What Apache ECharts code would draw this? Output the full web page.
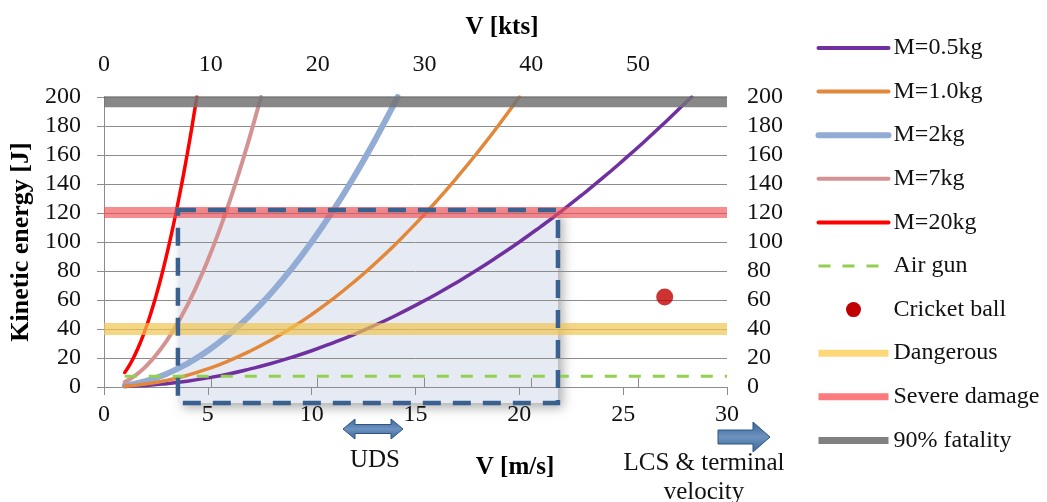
<!DOCTYPE html>
<html><head><meta charset="utf-8">
<script src="https://cdn.jsdelivr.net/npm/echarts@6/dist/echarts.min.js"></script>
<style>html,body{margin:0;padding:0;background:#fff}#c{width:1047px;height:502px}</style>
</head><body><div id="c"></div>
<script>
// ---- data ----
const speedM05 = [1,2,3,4,5,6,7,8,9,10,11,12,13,14,15,16,17,18,19,20,21,22,23,24,25,26,27,28,28.3];
const keM05    = [0.3,1,2.3,4,6.3,9,12.3,16,20.3,25,30.3,36,42.3,49,56.3,64,72.3,81,90.3,100,110.3,121,132.3,144,156.3,169,182.3,196,200];
const speedM1  = [1,2,3,4,5,6,7,8,9,10,11,12,13,14,15,16,17,18,19,20];
const keM1     = [0.5,2,4.5,8,12.5,18,24.5,32,40.5,50,60.5,72,84.5,98,112.5,128,144.5,162,180.5,200];
const speedM2  = [1,2,3,4,5,6,7,8,9,10,11,12,13,14,14.14];
const keM2     = [1,4,9,16,25,36,49,64,81,100,121,144,169,196,200];
const speedM7  = [1,1.5,2,2.5,3,3.5,4,4.5,5,5.5,6,6.5,7,7.5,7.56];
const keM7     = [3.5,7.9,14,21.9,31.5,42.9,56,70.9,87.5,105.9,126,147.9,171.5,196.9,200];
const speedM20 = [1,1.25,1.5,1.75,2,2.25,2.5,2.75,3,3.25,3.5,3.75,4,4.25,4.47];
const keM20    = [10,15.6,22.5,30.6,40,50.6,62.5,75.6,90,105.6,122.5,140.6,160,180.6,200];
const airGunSpeed = [1, 30];
const airGunKE    = [7.5, 7.5];
const cricketBall = [27, 62];
const bandSpeed   = [0, 30];
const dangerousKE = 40;
const severeKE    = 120.3;
const fatalityKE  = 196.8;
const udsBox = [3.56, 21.86, -11, 122]; // speed min, speed max, KE min, KE max
const msTicks  = [0,5,10,15,20,25,30];
const ktsTicks = [0,10,20,30,40,50];
const keTicks  = [0,20,40,60,80,100,120,140,160,180,200];
const MS_TO_KTS = 1.944;

function zip(a,b){return a.map((v,i)=>[v,b[i]]);}

const FONT = 'Liberation Serif';
const FS = 24;
const gridCol = '#8c8c8c';

const chart = echarts.init(document.getElementById('c'), null, {renderer:'canvas'});

function curve(name, xs, ys, color, width, z){
  return {name, type:'line', data:zip(xs,ys), smooth:0.5, symbol:'none',
    lineStyle:{color, width, cap:'round'}, itemStyle:{color}, z, xAxisIndex:0, yAxisIndex:0, silent:true};
}
function band(name, ke, color, width, z){
  return {name, type:'line', data:zip(bandSpeed,[ke,ke]), symbol:'none',
    lineStyle:{color, width}, itemStyle:{color}, z, xAxisIndex:0, yAxisIndex:0, silent:true};
}
const arrowFill = () => new echarts.graphic.LinearGradient(0,0,0,1,[{offset:0,color:'#3b6596'},{offset:0.5,color:'#6c92c0'},{offset:1,color:'#3b6596'}]);

const option = {
  animation:false,
  backgroundColor:'#fff',
  grid:{left:103, right:320, top:97, bottom:115, containLabel:false},
  xAxis:[
    {type:'value', position:'bottom', z:2, min:msTicks[0], max:msTicks[msTicks.length-1], interval:5,
     axisLine:{show:true, lineStyle:{color:gridCol}}, axisTick:{show:true, length:8, lineStyle:{color:gridCol}},
     axisLabel:{fontFamily:FONT, fontSize:FS, color:'#111', margin:16}, splitLine:{show:false}},
    {type:'value', position:'top', z:2, min:0, max:msTicks[msTicks.length-1]*MS_TO_KTS, interval:10,
     axisLine:{show:true, lineStyle:{color:gridCol}}, axisTick:{show:true, length:9, lineStyle:{color:gridCol}},
     axisLabel:{fontFamily:FONT, fontSize:FS, color:'#111', margin:20, showMaxLabel:false,
       formatter:v=>ktsTicks.includes(Math.round(v*1000)/1000)?String(v):''},
     splitLine:{show:false}}
  ],
  yAxis:[
    {type:'value', position:'left', z:2, min:0, max:200, interval:20,
     name:'Kinetic energy [J]', nameLocation:'middle', nameGap:70,
     nameTextStyle:{fontFamily:FONT, fontSize:26, fontWeight:'bold', color:'#000'},
     axisLine:{show:true, lineStyle:{color:gridCol}}, axisTick:{show:true, length:7, lineStyle:{color:gridCol}},
     axisLabel:{fontFamily:FONT, fontSize:FS, color:'#111', margin:23},
     splitLine:{show:true, lineStyle:{color:gridCol, width:1}}},
    {type:'value', position:'right', z:2, min:0, max:200, interval:20,
     axisLine:{show:true, lineStyle:{color:gridCol}}, axisTick:{show:true, length:7, lineStyle:{color:gridCol}},
     axisLabel:{fontFamily:FONT, fontSize:FS, color:'#111', margin:20},
     splitLine:{show:false}}
  ],
  legend:{
    orient:'vertical', left:810, top:31, itemWidth:70, itemHeight:15, itemGap:19.6,
    itemStyle:{opacity:0},
    textStyle:{fontFamily:FONT, fontSize:FS, color:'#111'},
    data:[
      {name:'M=0.5kg', lineStyle:{width:4}},
      {name:'M=1.0kg', lineStyle:{width:4}},
      {name:'M=2kg', lineStyle:{width:6}},
      {name:'M=7kg', lineStyle:{width:4}},
      {name:'M=20kg', lineStyle:{width:4}},
      {name:'Air gun', lineStyle:{width:3}},
      {name:'Cricket ball', icon:'circle', itemStyle:{opacity:1, color:'#c00000'}},
      {name:'Dangerous', lineStyle:{width:7, color:'#fdd878'}},
      {name:'Severe damage', lineStyle:{width:7, color:'#fd7a7e'}},
      {name:'90% fatality', lineStyle:{width:7, color:'#808080'}}
    ]
  },
  series:[
    {name:'udsFill', type:'custom', xAxisIndex:0, yAxisIndex:0, clip:false, z:1, silent:true,
     data:[udsBox],
     renderItem:(params, api)=>{
       const p0 = api.coord([api.value(0), api.value(3)]);
       const p1 = api.coord([api.value(1), api.value(2)]);
       return {type:'rect', shape:{x:p0[0], y:p0[1], width:p1[0]-p0[0], height:p1[1]-p0[1]},
         style:{fill:'#e6ebf3', shadowBlur:10, shadowColor:'rgba(0,0,0,0.3)', shadowOffsetX:5, shadowOffsetY:5}};
     }},
    curve('M=0.5kg', speedM05, keM05, '#7030a0', 3.5, 5),
    curve('M=1.0kg', speedM1, keM1, '#e3883a', 3.5, 5),
    curve('M=2kg', speedM2, keM2, '#92acd6', 6, 4),
    curve('M=7kg', speedM7, keM7, '#d49292', 4, 5),
    curve('M=20kg', speedM20, keM20, '#ff0000', 3.5, 6),
    {name:'Air gun', type:'line', data:zip(airGunSpeed, airGunKE), symbol:'none', z:5, silent:true,
     lineStyle:{color:'#92d050', width:3, type:[12,12]}, itemStyle:{color:'#92d050'}},
    {name:'Cricket ball', type:'scatter', data:[cricketBall], symbol:'circle', symbolSize:17, z:7, silent:true,
     itemStyle:{color:'#c00000'}},
    band('Dangerous', dangerousKE, 'rgba(240,196,80,0.7)', 12, 8),
    band('Severe damage', severeKE, 'rgba(240,80,85,0.65)', 11, 8),
    band('90% fatality', fatalityKE, 'rgba(115,115,115,0.85)', 11, 8),
    {name:'udsBorder', type:'custom', xAxisIndex:0, yAxisIndex:0, clip:false, z:9, silent:true,
     data:[udsBox],
     renderItem:(params, api)=>{
       const p0 = api.coord([api.value(0), api.value(3)]);
       const p1 = api.coord([api.value(1), api.value(2)]);
       return {type:'rect', shape:{x:p0[0], y:p0[1], width:p1[0]-p0[0], height:p1[1]-p0[1]},
         style:{fill:null, stroke:'#3a6090', lineWidth:4.5, lineDash:[18,12]}};
     }}
  ],
  graphic:[
    {type:'text', style:{text:'V [kts]', x:502, y:28, align:'center', verticalAlign:'middle', font:'bold 25px "Liberation Serif"', fill:'#000'}},
    {type:'text', style:{text:'V [m/s]', x:515, y:468, align:'center', verticalAlign:'middle', font:'bold 25px "Liberation Serif"', fill:'#000'}},
    {type:'text', style:{text:'UDS', x:375, y:460, align:'center', verticalAlign:'middle', font:'25px "Liberation Serif"', fill:'#111'}},
    {type:'text', style:{text:'LCS & terminal', x:704, y:463, align:'center', verticalAlign:'middle', font:'25px "Liberation Serif"', fill:'#111'}},
    {type:'text', style:{text:'velocity', x:704, y:492, align:'center', verticalAlign:'middle', font:'25px "Liberation Serif"', fill:'#111'}},
    {type:'polygon', shape:{points:[[343,429],[355,419],[355,424.5],[391,424.5],[391,419],[403,429],[391,439],[391,433.5],[355,433.5],[355,439]]},
     style:{fill:arrowFill(), stroke:'#2f5683', lineWidth:1}},
    {type:'polygon', shape:{points:[[718,430],[753,430],[753,422],[770,437],[753,452],[753,444],[718,444]]},
     style:{fill:arrowFill(), stroke:'#2f5683', lineWidth:1}}
  ]
};
chart.setOption(option);
</script>
</body></html>
